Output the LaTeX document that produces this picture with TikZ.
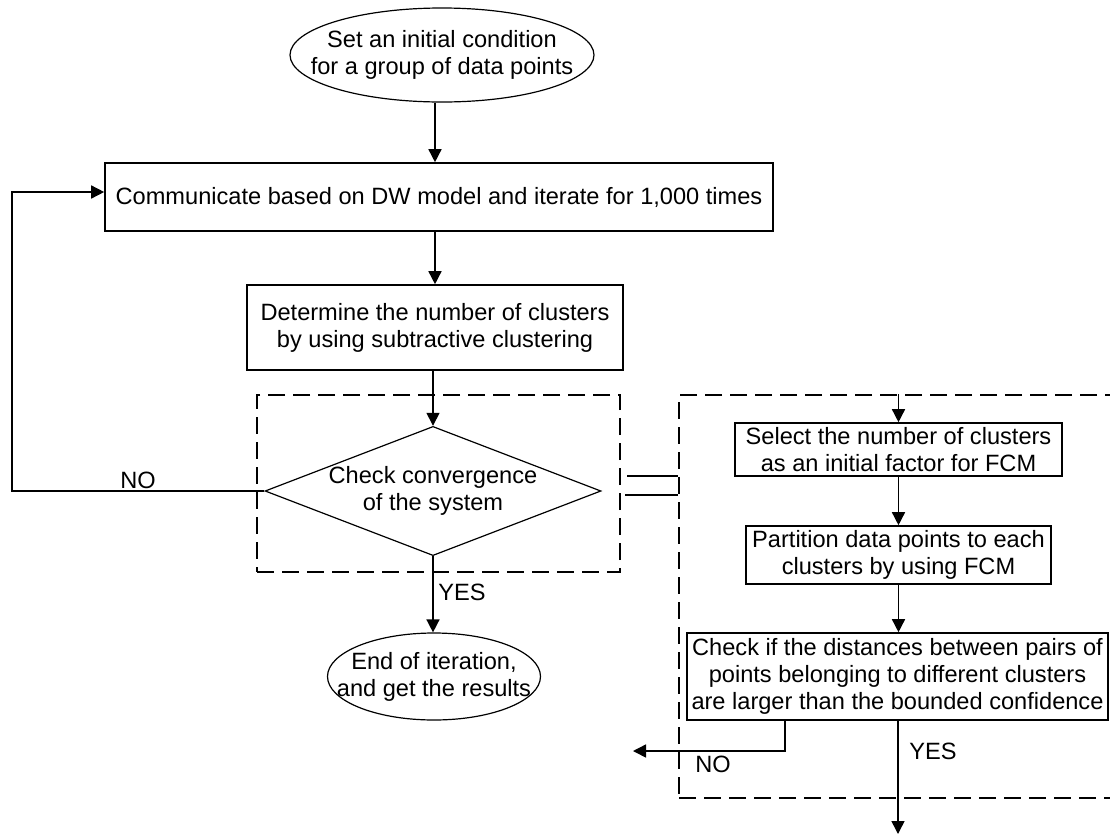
\documentclass[tikz,border=0pt]{standalone}
\usepackage{fontspec}
\setmainfont{Liberation Sans}
\usetikzlibrary{arrows.meta,shapes.geometric,fit}

\tikzset{
  procbox/.style={draw, line width=0.8pt, rectangle, inner xsep=2pt, inner ysep=0.5pt, align=center},
  termoval/.style={draw, line width=0.6pt, ellipse, inner xsep=-40pt, inner ysep=-8pt, align=center},
  decision/.style={draw, line width=0.6pt, diamond, shape aspect=2.6, inner sep=0pt, align=center},
  dashgroup/.style={draw, line width=0.75pt, dash pattern=on 8.5pt off 4pt, inner sep=0pt},
  flowarrow/.style={line width=0.75pt, -{Triangle[length=6.5pt,width=6.5pt]}},
}

\begin{document}
\begin{tikzpicture}[x=0.5pt, y=-0.5pt, font=\fontsize{11.8pt}{13.5pt}\selectfont]
			%%%%% FRAME %%%%%
			\useasboundingbox (0,0) rectangle (1110,836);
			\clip (0,0) rectangle (1110,836);
			
			%%%%% MAIN LOOP %%%%%
			\node[termoval, minimum width=152pt, minimum height=47pt] (start) at (442,55) {Set an initial condition\\for a group of data points};
			\node[procbox, minimum width=334pt, minimum height=34pt] (comm) at (439,197) {Communicate based on DW model and iterate for 1,000 times};
			\node[procbox, minimum width=188pt, minimum height=42.5pt] (det) at (435,327.5) {Determine the number of clusters\\by using subtractive clustering};
			\node[decision, minimum width=160pt, minimum height=62pt] (conv) at (433,491) {Check convergence\\of the system};
			\node[termoval, minimum width=106.5pt, minimum height=43.5pt] (stop) at (434,676.5) {End of iteration,\\and get the results};
			
			\draw[flowarrow] (start.south -| det.north) -- (comm.north -| det.north);
			\draw[flowarrow] (comm.south -| det.north) -- (det.north);
			\draw[flowarrow] (det.south -| conv.north) -- (conv.north);
			\draw[flowarrow] (conv.south) -- (conv.south |- stop.north);
			
			\coordinate (back) at (12,491);
			\draw[flowarrow] (conv.west) -- (back) |- ([yshift=2.5pt]comm.west);
			\node (noA) at (138,480) {NO};
			\node (yesA) at (462,592) {YES};
			
			%%%%% FCM PART %%%%%
			\node[procbox, minimum width=163.5pt, minimum height=26.5pt] (sel) at (898.5,449.5) {Select the number of clusters\\as an initial factor for FCM};
			\node[procbox, minimum width=152.5pt, minimum height=29pt] (part) at (898.5,555) {Partition data points to each\\clusters by using FCM};
			\node[procbox, minimum width=210.5pt, minimum height=43.5pt] (chk) at (897.5,676.5) {Check if the distances between pairs of\\points belonging to different clusters\\are larger than the bounded confidence};
			
			%%%%% DASHED GROUPS %%%%%
			\coordinate (gl1) at (257,395);
			\coordinate (gl2) at (620,572);
			\node[dashgroup, fit=(gl1)(gl2)] (grpL) {};
			\coordinate (gr1) at (679,395);
			\coordinate (gr2) at (1124,798);
			\node[dashgroup, fit=(gr1)(gr2)] (grpR) {};
			
			\coordinate (eqT) at (627,476);
			\coordinate (eqB) at (625,495);
			\draw[line width=0.75pt] (eqT) -- (eqT -| grpR.west);
			\draw[line width=0.75pt] (eqB) -- (eqB -| grpR.west);
			
			\draw[flowarrow] (grpR.north -| sel.north) -- (sel.north);
			\draw[flowarrow] (sel.south -| part.north) -- (part.north);
			\draw[flowarrow] (part.south) -- (part.south |- chk.north);
			
			\coordinate (outYes) at (898,834);
			\draw[flowarrow] (chk.south -| outYes) -- (outYes);
			\coordinate (noTurn) at (785,751);
			\coordinate (outNo) at (633,751);
			\draw[flowarrow] (chk.south -| noTurn) -- (noTurn) -- (outNo);
			\node (yesB) at (933,751) {YES};
			\node (noB) at (713,764) {NO};
			
			%%%%% END %%%%%
\end{tikzpicture}
\end{document}
